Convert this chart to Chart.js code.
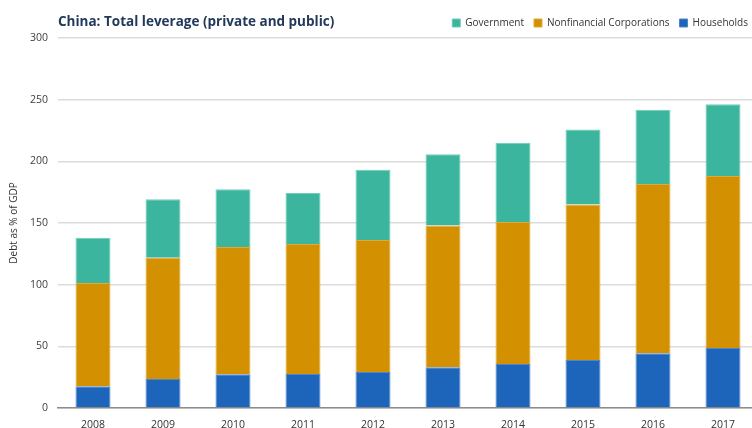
<!DOCTYPE html>
<html>
<head>
<meta charset="utf-8">
<script src="https://cdn.jsdelivr.net/npm/chart.js@4"></script>
<style>
  html, body { margin: 0; padding: 0; background: #fff; overflow: hidden; }
  #wrap { width: 760px; height: 428px; }
</style>
</head>
<body>
<div id="wrap"><canvas id="leverage" width="760" height="428"></canvas></div>
<script>
var years = ["2008","2009","2010","2011","2012","2013","2014","2015","2016","2017"];
var households = [17.6, 23.5, 27.3, 27.6, 29.2, 33.0, 35.7, 38.9, 44.3, 48.6];
var corporations = [83.7, 98.4, 103.2, 105.3, 107.0, 114.9, 115.1, 126.0, 137.3, 139.5];
var government = [36.8, 47.3, 46.8, 41.4, 57.0, 57.8, 64.3, 61.0, 60.3, 58.1];

var fontFamily = "'Open Sans', 'Noto Sans', sans-serif";

// chart title sits on the same row as the legend, left-aligned over the plot
var titlePlugin = {
  id: 'sideTitle',
  afterDraw: function (chart) {
    var c = chart.ctx;
    c.save();
    c.font = "bold 13.5px " + fontFamily;
    c.fillStyle = "#22395a";
    c.textBaseline = "middle";
    c.fillText("China: Total leverage (private and public)", chart.chartArea.left, 22);
    c.restore();
  }
};

var ctx = document.getElementById("leverage");
var chartBar = new Chart(ctx, {
  type: 'bar',
  data: {
    labels: years,
    datasets: [{
      label: 'Households',
      data: households,
      backgroundColor: '#1c65ba',
      borderColor: '#4f86c9',
      borderWidth: 1
    }, {
      label: 'Nonfinancial Corporations',
      data: corporations,
      backgroundColor: '#d39000',
      borderColor: '#e0aa3a',
      borderWidth: 1
    }, {
      label: 'Government',
      data: government,
      backgroundColor: '#3bb59e',
      borderColor: '#6fcdb9',
      borderWidth: 1
    }]
  },
  options: {
    responsive: false,
    animation: false,
    layout: { padding: { top: 8, right: 2, bottom: 0, left: 0 } },
    datasets: { bar: { categoryPercentage: 1, barPercentage: 0.5 } },
    plugins: {
      legend: {
        position: 'top',
        align: 'end',
        reverse: true,
        labels: {
          boxWidth: 8,
          boxHeight: 8,
          padding: 10,
          color: '#333',
          font: { family: fontFamily, size: 10 }
        }
      },
      tooltip: { enabled: false }
    },
    scales: {
      x: {
        stacked: true,
        grid: { display: false, drawTicks: false },
        border: { color: '#8c8c8c', width: 1.5 },
        ticks: { color: '#333', padding: 11, font: { family: fontFamily, size: 10.5 } },
        afterFit: function (s) { s.height = 20; }
      },
      y: {
        stacked: true,
        min: 0,
        max: 300,
        ticks: { stepSize: 50, color: '#404040', padding: 10, font: { family: fontFamily, size: 10.5 } },
        grid: { color: '#dcdcdc', lineWidth: 1.5, drawTicks: false },
        border: { display: false },
        title: {
          display: true,
          text: 'Debt as % of GDP',
          color: '#333',
          font: { family: fontFamily, size: 10 },
          padding: { top: 8, bottom: 0 }
        },
        afterFit: function (s) { s.width = 58; }
      }
    }
  },
  plugins: [titlePlugin]
});
</script>
</body>
</html>
